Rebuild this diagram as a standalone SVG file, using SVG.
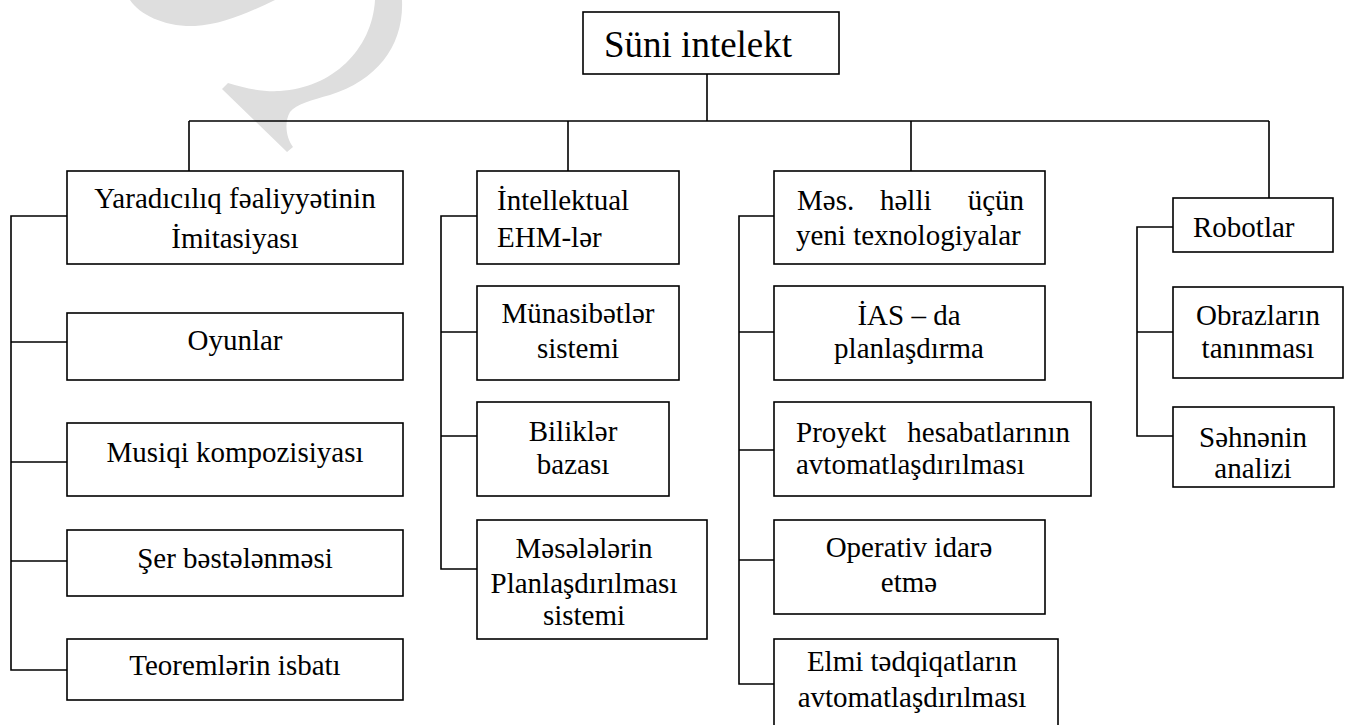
<svg xmlns="http://www.w3.org/2000/svg" width="1351" height="725" viewBox="0 0 1351 725" font-family="'Liberation Serif', 'DejaVu Serif', 'Times New Roman', serif">
<style>
.box{fill:#fff;stroke:#000;stroke-width:1.6}
.t{font-family:'Liberation Serif','DejaVu Serif','Times New Roman',serif;font-size:29px;fill:#000}
.c{text-anchor:middle}
.big{font-size:37px}
.conn{fill:none;stroke:#000;stroke-width:1.6}
</style>
<rect width="1351" height="725" fill="#fff"/>
<path id="watermark" fill="#dedede" d="M130 0 C140 15,165 27,195 26 C222 25,250 12,275 0 Z M375 0 C372 50,332 88,280 91 C262 92,244 88,228 83 L222 89 L287 152 L293 147 C286 138,284 122,290 112 C296 104,312 100,330 95 C378 80,404 45,402 0 Z"/>
<g id="connectors" class="conn">
<path d="M707 74 V121 M189 121 H1269 M189 121 V171 M568 121 V171 M911 121 V171 M1269 121 V198"/>
<path d="M67 216 H11 V670 H67 M11 342 H67 M11 462 H67 M11 561 H67"/>
<path d="M477 216 H441 V569 H477 M441 332 H477 M441 436 H477"/>
<path d="M774 216 H739 V684 H774 M739 332 H774 M739 450 H774 M739 560 H774"/>
<path d="M1173 227 H1137 V436 H1173 M1137 332 H1173"/>
</g>
<g id="n-root"><rect class="box" x="583" y="12" width="256" height="62"/><text class="t big" x="604" y="57" font-family="'Liberation Serif', 'DejaVu Serif', serif">Süni intelekt</text></g>
<g id="n-yaradiciliq"><rect class="box" x="67" y="171" width="336" height="93"/><text class="t c" x="235" y="208">Yaradıcılıq fəaliyyətinin</text><text class="t c" x="235" y="248">İmitasiyası</text></g>
<g id="n-oyunlar"><rect class="box" x="67" y="313" width="336" height="67"/><text class="t c" x="235" y="350">Oyunlar</text></g>
<g id="n-musiqi"><rect class="box" x="67" y="423" width="336" height="73"/><text class="t c" x="235" y="462">Musiqi kompozisiyası</text></g>
<g id="n-ser"><rect class="box" x="67" y="530" width="336" height="66"/><text class="t c" x="235" y="568">Şer bəstələnməsi</text></g>
<g id="n-teorem"><rect class="box" x="67" y="639" width="336" height="61"/><text class="t c" x="235" y="675">Teoremlərin isbatı</text></g>
<g id="n-intellektual"><rect class="box" x="477" y="171" width="202" height="93"/><text class="t" x="497" y="210">İntellektual</text><text class="t" x="497" y="247">EHM-lər</text></g>
<g id="n-munasibetler"><rect class="box" x="477" y="286" width="202" height="94"/><text class="t c" x="578" y="323">Münasibətlər</text><text class="t c" x="578" y="358">sistemi</text></g>
<g id="n-bilikler"><rect class="box" x="477" y="402" width="192" height="94"/><text class="t c" x="573" y="441">Biliklər</text><text class="t c" x="573" y="474">bazası</text></g>
<g id="n-meseleler"><rect class="box" x="477" y="520" width="230" height="119"/><text class="t c" x="584" y="558">Məsələlərin</text><text class="t c" x="584" y="593">Planlaşdırılması</text><text class="t c" x="584" y="625">sistemi</text></g>
<g id="n-mes"><rect class="box" x="774" y="171" width="271" height="93"/><text class="t" y="210"><tspan x="797">Məs.</tspan><tspan x="880">həlli</tspan><tspan x="1024" text-anchor="end">üçün</tspan></text><text class="t" x="796" y="245">yeni texnologiyalar</text></g>
<g id="n-ias"><rect class="box" x="774" y="286" width="271" height="94"/><text class="t c" x="909" y="325">İAS – da</text><text class="t c" x="909" y="358">planlaşdırma</text></g>
<g id="n-proyekt"><rect class="box" x="774" y="402" width="317" height="94"/><text class="t" y="442"><tspan x="796">Proyekt</tspan><tspan x="1070" text-anchor="end">hesabatlarının</tspan></text><text class="t" x="796" y="474">avtomatlaşdırılması</text></g>
<g id="n-operativ"><rect class="box" x="774" y="520" width="271" height="94"/><text class="t c" x="909" y="557">Operativ idarə</text><text class="t c" x="909" y="592">etmə</text></g>
<g id="n-elmi"><rect class="box" x="774" y="639" width="284" height="90"/><text class="t c" x="912" y="671">Elmi tədqiqatların</text><text class="t c" x="912" y="707">avtomatlaşdırılması</text></g>
<g id="n-robotlar"><rect class="box" x="1173" y="198" width="160" height="54"/><text class="t" x="1193" y="237">Robotlar</text></g>
<g id="n-obrazlar"><rect class="box" x="1173" y="287" width="170" height="91"/><text class="t c" x="1258" y="325">Obrazların</text><text class="t c" x="1258" y="358">tanınması</text></g>
<g id="n-sehne"><rect class="box" x="1173" y="407" width="161" height="80"/><text class="t c" x="1253" y="447">Səhnənin</text><text class="t c" x="1253" y="478">analizi</text></g>
</svg>
